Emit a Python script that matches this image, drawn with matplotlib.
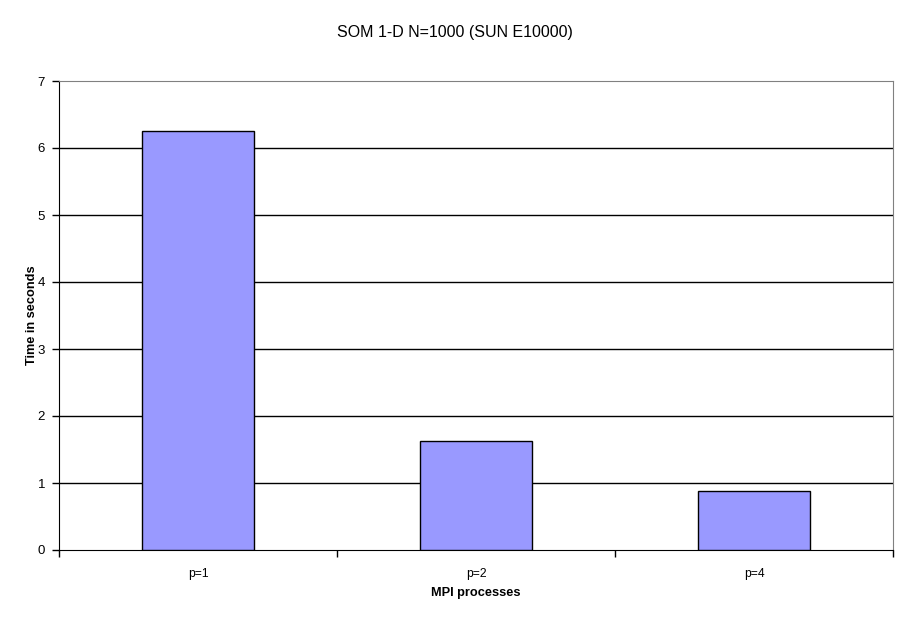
import matplotlib
matplotlib.use('Agg')
import matplotlib.pyplot as plt
import numpy as np

# values
categories = ['p=1', 'p=2', 'p=4']
times = [6.25, 1.63, 0.88]

plt.rcParams['font.family'] = ['Liberation Sans', 'DejaVu Sans']

fig = plt.figure(figsize=(9.09, 6.21), dpi=100)
ax = fig.add_axes([59 / 909, 71 / 621, 834 / 909, 469 / 621])

x = np.arange(len(categories))
ax.bar(x, times, width=0.4, color='#9999FF', edgecolor='black', linewidth=1, zorder=3)

ax.set_xlim(-0.5, len(categories) - 0.5)
ax.set_ylim(0, 7)
ax.set_yticks(range(0, 8))

# horizontal grid lines, black like the original
for v in range(1, 7):
    ax.axhline(v, color='black', linewidth=1, zorder=1)

# category boundaries as x ticks, labels centred under the bars
ax.set_xticks(np.arange(-0.5, len(categories), 1.0))
ax.set_xticklabels([])
ax.set_xticks(x, minor=True)
ax.set_xticklabels(categories, minor=True)
ax.tick_params(axis='x', which='minor', length=0, pad=13, labelsize=8.7)
ax.tick_params(axis='x', which='major', length=5, width=1, direction='out')
ax.tick_params(axis='y', length=5, width=1, direction='out', labelsize=9.5, pad=5)

ax.spines['top'].set_color('#808080')
ax.spines['right'].set_color('#808080')
ax.spines['left'].set_color('black')
ax.spines['bottom'].set_color('black')

ax.set_xlabel('MPI processes', fontsize=9.2, fontweight='bold', labelpad=5)
ax.set_ylabel('Time in seconds', fontsize=9.2, fontweight='bold', labelpad=0)
fig.text(0.5, 1 - 32 / 621, 'SOM 1-D N=1000 (SUN E10000)', ha='center', va='center', fontsize=11.5)

fig.savefig('out.png', dpi=100)
